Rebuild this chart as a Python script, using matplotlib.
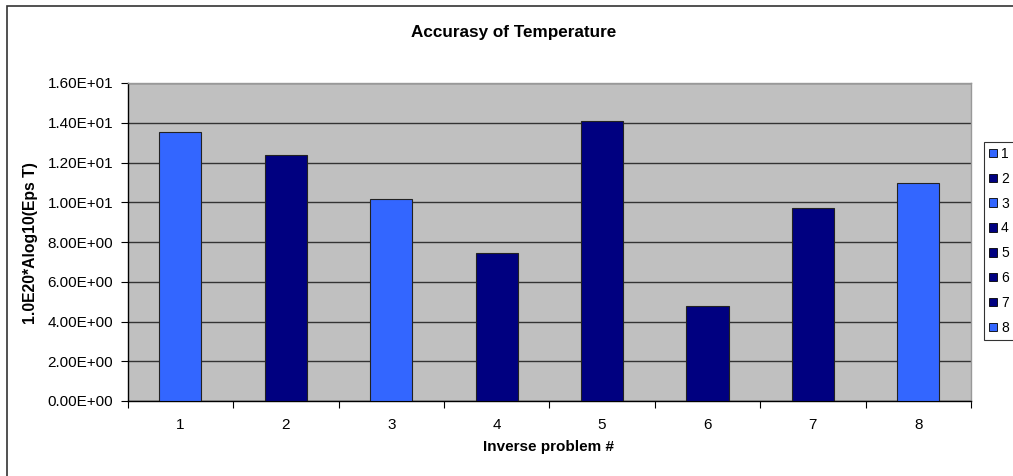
import matplotlib
matplotlib.use("Agg")
import matplotlib.pyplot as plt
from matplotlib.patches import Rectangle, Patch
from matplotlib.ticker import FuncFormatter, MultipleLocator

plt.rcParams['font.family'] = ['Liberation Sans', 'DejaVu Sans']

categories = ['1', '2', '3', '4', '5', '6', '7', '8']
values = [13.55, 12.38, 10.17, 7.45, 14.1, 4.78, 9.7, 10.97]
light, dark = '#3366FF', '#000080'
colors = [light, dark, light, dark, dark, dark, dark, light]

W, H = 1013, 476
fig = plt.figure(figsize=(W/100, H/100), dpi=100)
fig.patch.set_facecolor('white')

# outer chart border
fig.patches.append(Rectangle((7/W, -0.1), 1.2, 1 - 6/H + 0.1, transform=fig.transFigure,
                             fill=False, edgecolor='#333333', linewidth=1.2))

l, r, t, b = 127.7, 971, 83, 401
ax = fig.add_axes([l/W, 1 - b/H, (r - l)/W, (b - t)/H])
ax.set_facecolor('#C0C0C0')

x = list(range(len(categories)))
ax.bar(x, values, width=0.4, color=colors, edgecolor='#222222', linewidth=0.8, zorder=3)

ax.set_xlim(-0.5, len(categories) - 0.5)
ax.set_ylim(0, 16)
ax.yaxis.set_major_locator(MultipleLocator(2))
ax.yaxis.set_major_formatter(FuncFormatter(lambda v, p: f"{v:.2E}"))
ax.grid(axis='y', color='#333333', linewidth=1.0, zorder=1)

ax.set_xticks([i - 0.5 for i in range(len(categories) + 1)])
ax.set_xticklabels([])
ax.set_xticks(x, minor=True)
ax.set_xticklabels(categories, minor=True)
ax.tick_params(axis='x', which='minor', length=0, pad=12, labelsize=11)
ax.tick_params(axis='x', which='major', length=5, direction='out', width=0.8)
ax.tick_params(axis='y', length=5, direction='out', width=0.8, labelsize=11, pad=5.5)

for s in ['top', 'right']:
    ax.spines[s].set_color('#999999')
    ax.spines[s].set_linewidth(1.0)
for s in ['left', 'bottom']:
    ax.spines[s].set_color('black')
    ax.spines[s].set_linewidth(1.0)

fig.text(514/W, 1 - 33/H, 'Accurasy of Temperature', ha='center', va='center',
         fontsize=12.3, fontweight='bold')
fig.text(548/W, 1 - 447/H, 'Inverse problem #', ha='center', va='center',
         fontsize=11, fontweight='bold')
fig.text(31/W, 1 - 243/H, '1.0E20*Alog10(Eps T)', ha='center', va='center',
         fontsize=11.3, fontweight='bold', rotation=90)

handles = [Patch(facecolor=c, edgecolor='black', linewidth=0.6) for c in colors]
leg = fig.legend(handles, categories, loc='upper left',
                 bbox_to_anchor=(984/W, 1 - 142/H), bbox_transform=fig.transFigure,
                 fontsize=10, frameon=True, fancybox=False, borderpad=0.35,
                 handlelength=0.57, handleheight=0.57, handletextpad=0.3,
                 labelspacing=0.78, borderaxespad=0)
leg.get_frame().set_edgecolor('black')
leg.get_frame().set_linewidth(0.8)

fig.savefig('out.png', dpi=100)
